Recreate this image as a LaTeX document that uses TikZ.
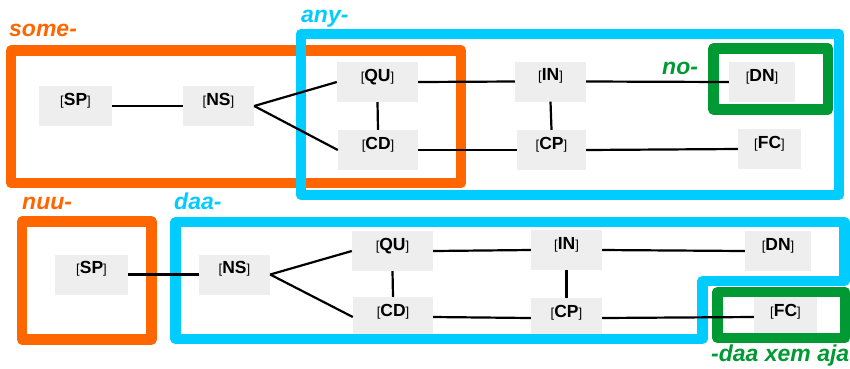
\documentclass[tikz,border=0pt]{standalone}
\usepackage{fontspec}
\setmainfont{Liberation Sans}
\definecolor{orng}{RGB}{255,102,0}
\definecolor{cyn}{RGB}{0,204,255}
\definecolor{grn}{RGB}{0,153,51}
\definecolor{nodegray}{RGB}{238,238,238}
\newcommand{\nlab}[1]{{\fontsize{13}{13}\selectfont[}{\fontsize{17.5}{17.5}\selectfont\bfseries #1}{\fontsize{13}{13}\selectfont]}}
\begin{document}
\begin{tikzpicture}[x=1pt,y=-1pt,
  cat/.style={fill=nodegray, draw=none, inner sep=0pt, text height=19pt, text depth=21pt, minimum height=40pt},
  link/.style={line width=2.2pt, black},
  grp/.style={line width=10.5pt, line join=round},
  glab/.style={anchor=base west, font=\fontsize{23}{23}\selectfont\bfseries\itshape, inner sep=0pt}]
\useasboundingbox (0,0) rectangle (850,368);
% top nodes
\node[cat, minimum width=73pt] (sp1) at (75.5,106) {\nlab{SP}};
\node[cat, minimum width=71pt] (ns1) at (218.5,106) {\nlab{NS}};
\node[cat, minimum width=81pt] (qu1) at (377.5,82) {\nlab{QU}};
\node[cat, minimum width=80pt] (cd1) at (378,150) {\nlab{CD}};
\node[cat, minimum width=71pt] (in1) at (550.5,81.5) {\nlab{IN}};
\node[cat, minimum width=69pt] (cp1) at (551.5,150) {\nlab{CP}};
\node[cat, minimum width=66pt] (dn1) at (762,82) {\nlab{DN}};
\node[cat, minimum width=63pt] (fc1) at (769.5,149) {\nlab{FC}};
% bottom nodes
\node[cat, minimum width=73pt] (sp2) at (91.5,274.5) {\nlab{SP}};
\node[cat, minimum width=71pt] (ns2) at (234.5,274.5) {\nlab{NS}};
\node[cat, minimum width=81pt] (qu2) at (392.5,251) {\nlab{QU}};
\node[cat, minimum width=80pt] (cd2) at (393,317) {\nlab{CD}};
\node[cat, minimum width=71pt] (in2) at (566.5,250) {\nlab{IN}};
\node[cat, minimum width=71pt] (cp2) at (566.5,318) {\nlab{CP}};
\node[cat, minimum width=66pt] (dn2) at (778,251) {\nlab{DN}};
\node[cat, minimum width=63pt] (fc2) at (785.5,317) {\nlab{FC}};
% group boxes
\draw[grp, orng] (11,50.5) rectangle (461,183);
\draw[grp, cyn] (301,34) rectangle (839,195);
\draw[grp, grn] (713.5,48.5) rectangle (828,109.5);
\draw[grp, orng] (22,221.5) rectangle (151.5,339.5);
\draw[grp, cyn] (175.5,222) -- (844.5,222) -- (844.5,281) -- (702.5,281) -- (702.5,339) -- (175.5,339) -- cycle;
\draw[grp, grn] (717.5,292) rectangle (845,338);
% labels
\node[glab, text=orng] (lsome) at (9,36.5) {some-};
\node[glab, text=cyn] (lany) at (301,22.5) {any-};
\node[glab, text=grn] (lno) at (662,74) {no-};
\node[glab, text=orng] (lnuu) at (22,209.5) {nuu-};
\node[glab, text=cyn] (ldaa) at (174,209.5) {daa-};
\node[glab, text=grn] (ldxa) at (711,361) {-daa xem aja};
% links top
\draw[link] (sp1.east) -- (ns1.west);
\draw[link] (ns1.east) -- (qu1.west);
\draw[link] (ns1.east) -- (cd1.west);
\draw[link] (qu1.south) -- (cd1.north);
\draw[link] (qu1.east) -- (in1.west);
\draw[link] (cd1.east) -- (cp1.west);
\draw[link] (in1.south) -- (cp1.north);
\draw[link] (in1.east) -- (dn1.west);
\draw[link] (cp1.east) -- (fc1.west);
% links bottom
\draw[link] (sp2.east) -- (ns2.west);
\draw[link] (ns2.east) -- (qu2.west);
\draw[link] (ns2.east) -- (cd2.west);
\draw[link] (qu2.south) -- (cd2.north);
\draw[link] (qu2.east) -- (in2.west);
\draw[link] (cd2.east) -- (cp2.west);
\draw[link] (in2.south) -- (cp2.north);
\draw[link] (in2.east) -- (dn2.west);
\draw[link] (cp2.east) -- (fc2.west);
\end{tikzpicture}
\end{document}
